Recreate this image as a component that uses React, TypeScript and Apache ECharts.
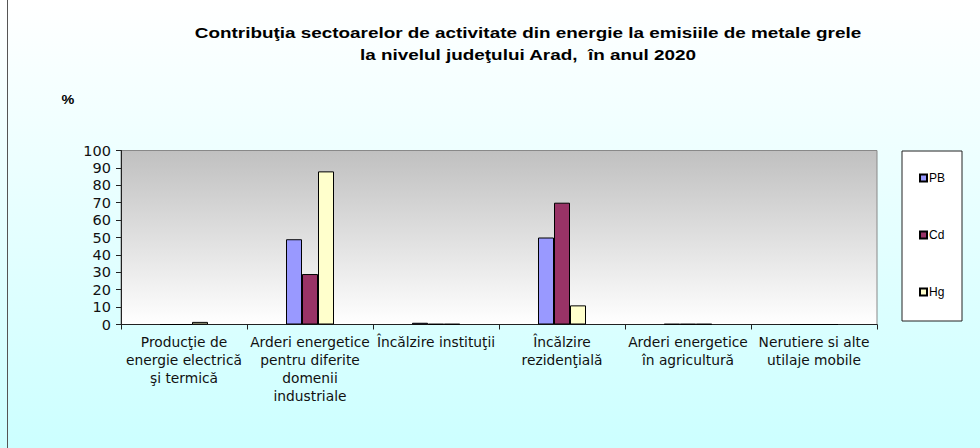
import React, { useEffect, useRef } from "react";
import * as echarts from "echarts";

const titleLines = [
  "Contribuţia sectoarelor de activitate din energie la emisiile de metale grele",
  "la nivelul judeţului Arad,  în anul 2020",
];
const unitLabel = "%";
const categories = [
  "Producţie de\nenergie electrică\nşi termică",
  "Arderi energetice\npentru diferite\ndomenii\nindustriale",
  "Încălzire instituţii",
  "Încălzire\nrezidenţială",
  "Arderi energetice\nîn agricultură",
  "Nerutiere si alte\nutilaje mobile",
];
const seriesNames = ["PB", "Cd", "Hg"];
const pbValues = [0, 49, 1, 50, 0.3, 0];
const cdValues = [0, 29, 0.3, 70, 0.3, 0];
const hgValues = [1.5, 88, 0.3, 11, 0.3, 0];
const seriesColors = ["#9999ff", "#993366", "#ffffcc"];

export default function App() {
  const ref = useRef<HTMLDivElement>(null);
  useEffect(() => {
    if (!ref.current) return;
    const chart = echarts.init(ref.current, null, { renderer: "svg" });
    const font = "Liberation Sans, Arial, sans-serif";
    const wide = "DejaVu Sans, sans-serif";
    const values = [pbValues, cdValues, hgValues];
    chart.setOption({
      animation: false,
      textStyle: { fontFamily: font },
      graphic: [
        {
          type: "line",
          shape: { x1: 7.5, y1: 0, x2: 7.5, y2: 448 },
          style: { stroke: "#555", lineWidth: 1 },
        },
        {
          type: "text",
          x: 528,
          y: 44,
          scaleX: 1.26,
          style: {
            text: titleLines.join("\n"),
            font: "bold 15px Liberation Sans, Arial, sans-serif",
            fill: "#000",
            align: "center",
            verticalAlign: "middle",
            lineHeight: 22,
          },
        },
        {
          type: "text",
          x: 68,
          y: 100,
          scaleX: 1.2,
          style: {
            text: unitLabel,
            font: "bold 12px Liberation Sans, Arial, sans-serif",
            fill: "#000",
            align: "center",
            verticalAlign: "middle",
          },
        },
        {
          type: "rect",
          shape: { x: 902, y: 151, width: 60, height: 170 },
          style: { fill: "#fff", stroke: "#222", lineWidth: 1 },
          z: 0,
        },
      ],
      legend: {
        orient: "vertical",
        left: 914,
        top: 167,
        itemGap: 45,
        itemWidth: 7,
        itemHeight: 7,
        icon: "rect",
        textStyle: { fontSize: 12, color: "#000", padding: [0, 0, 0, -3] },
        data: seriesNames,
        z: 5,
      },
      grid: {
        left: 121,
        right: 103,
        top: 150.5,
        bottom: 123.5,
        show: true,
        borderColor: "#888",
        borderWidth: 1,
        backgroundColor: new echarts.graphic.LinearGradient(0, 0, 0, 1, [
          { offset: 0, color: "#c0c0c0" },
          { offset: 1, color: "#ffffff" },
        ]),
      },
      xAxis: {
        type: "category",
        data: categories,
        axisLine: { lineStyle: { color: "#222", width: 1 } },
        axisTick: { show: true, length: 5, lineStyle: { color: "#222" } },
        axisLabel: {
          interval: 0,
          margin: 8,
          fontFamily: wide,
          fontSize: 13.8,
          lineHeight: 18,
          color: "#111",
          align: "center",
        },
      },
      yAxis: {
        type: "value",
        min: 0,
        max: 100,
        interval: 10,
        splitLine: { show: false },
        axisLine: { show: true, lineStyle: { color: "#222", width: 1 } },
        axisTick: { show: true, length: 5, lineStyle: { color: "#222" } },
        axisLabel: { fontFamily: wide, fontSize: 14.5, color: "#111", margin: 10 },
      },
      series: seriesNames.map((name, i) => ({
        name,
        type: "bar",
        data: values[i],
        barWidth: 16,
        barGap: "0%",
        itemStyle: { color: seriesColors[i], borderColor: "#000", borderWidth: 1 },
      })),
    });
    return () => chart.dispose();
  }, []);
  return (
    <div
      ref={ref}
      style={{
        position: "fixed",
        left: 0,
        top: 0,
        width: 980,
        height: 448,
        background: "linear-gradient(#ffffff, #ccffff)",
      }}
    />
  );
}
